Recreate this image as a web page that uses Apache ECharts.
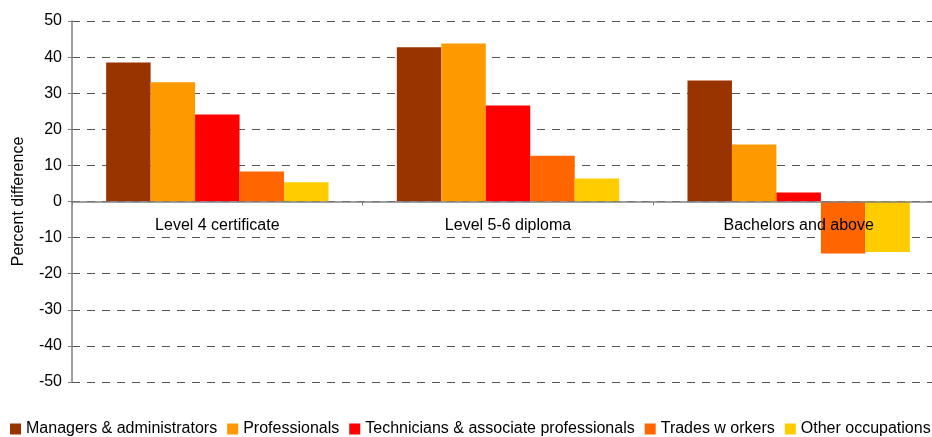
<!DOCTYPE html>
<html>
<head>
<meta charset="utf-8">
<script src="https://cdn.jsdelivr.net/npm/echarts@6/dist/echarts.min.js"></script>
<style>html,body{margin:0;padding:0;background:#fff;overflow:hidden;width:932px;height:437px}#c{width:944px;height:437px}</style>
</head>
<body>
<div id="c"></div>
<script>
const categories = ['Level 4 certificate', 'Level 5-6 diploma', 'Bachelors and above'];
const seriesNames = ['Managers & administrators', 'Professionals', 'Technicians & associate professionals', 'Trades w orkers', 'Other occupations'];
const managers = [38.5, 42.7, 33.5];
const professionals = [33.0, 43.8, 15.8];
const technicians = [24.1, 26.6, 2.5];
const trades = [8.3, 12.7, -14.4];
const other = [5.3, 6.4, -14.0];
const yTicks = [-50, -40, -30, -20, -10, 0, 10, 20, 30, 40, 50];
const colors = ['#993300', '#FF9900', '#FF0000', '#FF6600', '#FFCC00'];

const values = [managers, professionals, technicians, trades, other];
const chart = echarts.init(document.getElementById('c'), null, {renderer: 'canvas'});
chart.setOption({
  animation: false,
  textStyle: {fontFamily: 'Liberation Sans, Arial, sans-serif'},
  grid: {left: 72, top: 21, right: 0, bottom: 55, containLabel: false},
  legend: {
    left: 10, top: 421, padding: 0, itemWidth: 11, itemHeight: 11, itemGap: 10,
    icon: 'rect',
    textStyle: {fontSize: 16, color: '#000', padding: [0, 0, 0, 0]},
    data: seriesNames
  },
  xAxis: {
    type: 'category', data: categories, z: 5,
    axisLine: {onZero: true, lineStyle: {color: '#808080', width: 1.5}},
    axisTick: {show: true, length: 4, inside: false, lineStyle: {color: '#808080'}},
    axisLabel: {fontSize: 16, color: '#000', margin: -164},
    splitLine: {show: false}
  },
  yAxis: {
    type: 'value', min: yTicks[0], max: yTicks[yTicks.length - 1], interval: 10,
    name: 'Percent difference', nameLocation: 'middle', nameGap: 45,
    nameTextStyle: {fontSize: 16, color: '#000'},
    axisLine: {show: true, lineStyle: {color: '#808080', width: 1.5}},
    axisTick: {show: true, length: 4, lineStyle: {color: '#808080'}},
    axisLabel: {fontSize: 16, color: '#000', margin: 10},
    splitLine: {show: true, lineStyle: {color: '#555', type: [8, 7], width: 1}}
  },
  series: seriesNames.map((n, i) => ({
    name: n, type: 'bar', data: values[i], z: 2,
    itemStyle: {color: colors[i]},
    barGap: '0%', barCategoryGap: '23.5%'
  }))
});
</script>
</body>
</html>
